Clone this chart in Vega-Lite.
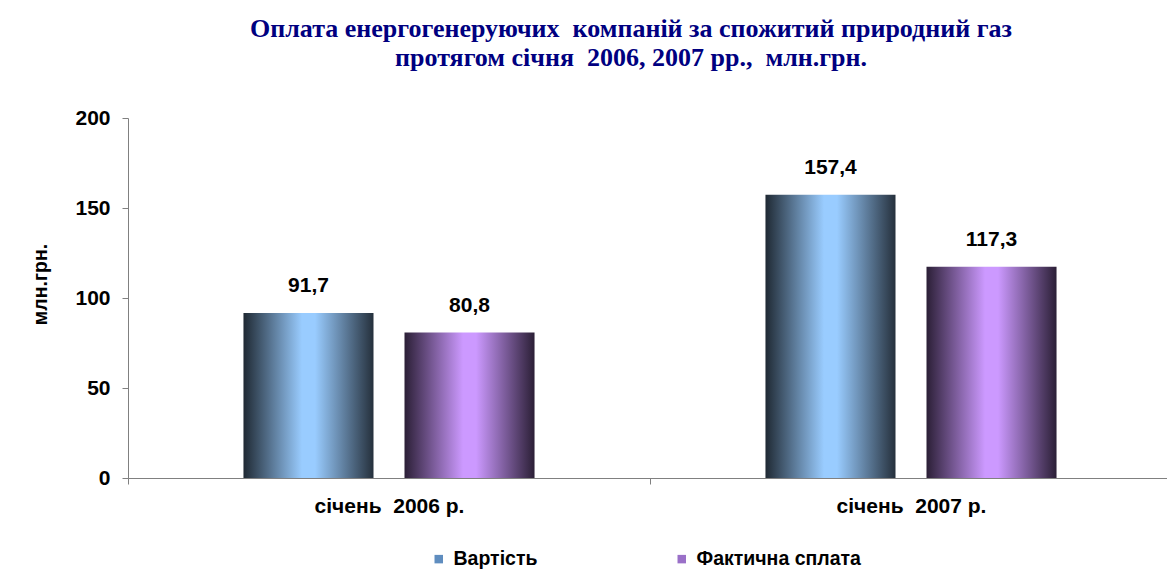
{
  "$schema": "https://vega.github.io/schema/vega-lite/v6.json",
  "width": 1044,
  "height": 360,
  "autosize": "none",
  "padding": {"left": 128, "top": 118, "right": 0, "bottom": 100},
  "background": "white",
  "config": {
    "view": {"stroke": null},
    "font": "Liberation Sans",
    "locale": {"number": {"decimal": ",", "thousands": " ", "grouping": [3], "currency": ["", ""]}}
  },
  "title": {
    "text": ["Оплата енергогенеруючих\u00a0 компаній за спожитий природний газ", "протягом січня\u00a0 2006, 2007 рр.,\u00a0 млн.грн."],
    "font": "Liberation Serif",
    "fontSize": 26,
    "fontWeight": "bold",
    "color": "#000080",
    "anchor": "middle",
    "dx": -19,
    "offset": 36,
    "lineHeight": 29
  },
  "data": {
    "values": [
      {"period": "січень\u00a0 2006 р.", "series": "Вартість", "value": 91.7},
      {"period": "січень\u00a0 2006 р.", "series": "Фактична сплата", "value": 80.8},
      {"period": "січень\u00a0 2007 р.", "series": "Вартість", "value": 157.4},
      {"period": "січень\u00a0 2007 р.", "series": "Фактична сплата", "value": 117.3}
    ]
  },
  "encoding": {
    "x": {
      "field": "period",
      "type": "nominal",
      "sort": null,
      "scale": {"paddingInner": 0, "paddingOuter": 0},
      "axis": {
        "title": null,
        "labelAngle": 0,
        "tickBand": "extent",
        "tickSize": 6,
        "tickColor": "#808080",
        "domainColor": "#808080",
        "labelPadding": 11,
        "labelFontSize": 21,
        "labelFontWeight": "bold",
        "labelColor": "black"
      }
    },
    "xOffset": {
      "field": "series",
      "type": "nominal",
      "sort": ["Вартість", "Фактична сплата"],
      "scale": {"paddingInner": 0.1925, "paddingOuter": 0.717}
    },
    "y": {
      "field": "value",
      "type": "quantitative",
      "scale": {"domain": [0, 200], "nice": false},
      "axis": {
        "title": "млн.грн.",
        "titleFontSize": 19.5,
        "titleFontWeight": "bold",
        "titleColor": "black",
        "titlePadding": 24,
        "titleY": 166,
        "values": [0, 50, 100, 150, 200],
        "grid": false,
        "tickSize": 6,
        "tickColor": "#808080",
        "domainColor": "#808080",
        "labelPadding": 12,
        "labelFontSize": 21,
        "labelFontWeight": "bold",
        "labelColor": "black"
      }
    }
  },
  "layer": [
    {
      "transform": [{"filter": "datum.series === 'Вартість'"}],
      "mark": {"type": "bar", "color": {"gradient": "linear", "x1": 0, "y1": 0, "x2": 1, "y2": 0, "stops": [
        {"offset": 0, "color": "#1f2933"},
        {"offset": 0.45, "color": "#99ccff"},
        {"offset": 0.55, "color": "#99ccff"},
        {"offset": 1, "color": "#25303c"}
      ]}}
    },
    {
      "transform": [{"filter": "datum.series === 'Фактична сплата'"}],
      "mark": {"type": "bar", "color": {"gradient": "linear", "x1": 0, "y1": 0, "x2": 1, "y2": 0, "stops": [
        {"offset": 0, "color": "#2b1f36"},
        {"offset": 0.45, "color": "#cc99ff"},
        {"offset": 0.55, "color": "#cc99ff"},
        {"offset": 1, "color": "#2b1f36"}
      ]}}
    },
    {
      "mark": {"type": "square", "size": 0, "filled": true},
      "encoding": {
        "color": {
          "field": "series",
          "type": "nominal",
          "sort": ["Вартість", "Фактична сплата"],
          "scale": {"range": ["#5f8dbf", "#9a70c8"]},
          "legend": {
            "title": null,
            "orient": "none",
            "legendX": 301,
            "legendY": 431,
            "direction": "horizontal",
            "columnPadding": 134,
            "symbolType": "square",
            "symbolSize": 72,
            "symbolStrokeWidth": 0,
            "symbolOpacity": 1,
            "labelFontSize": 19.5,
            "labelFontWeight": "bold",
            "labelColor": "black",
            "labelOffset": 5,
            "labelLimit": 400
          }
        }
      }
    },
    {
      "mark": {"type": "text", "baseline": "alphabetic", "dy": -21, "fontSize": 21, "fontWeight": "bold", "color": "black"},
      "encoding": {"text": {"field": "value", "type": "quantitative", "format": ".1f"}}
    }
  ]
}
